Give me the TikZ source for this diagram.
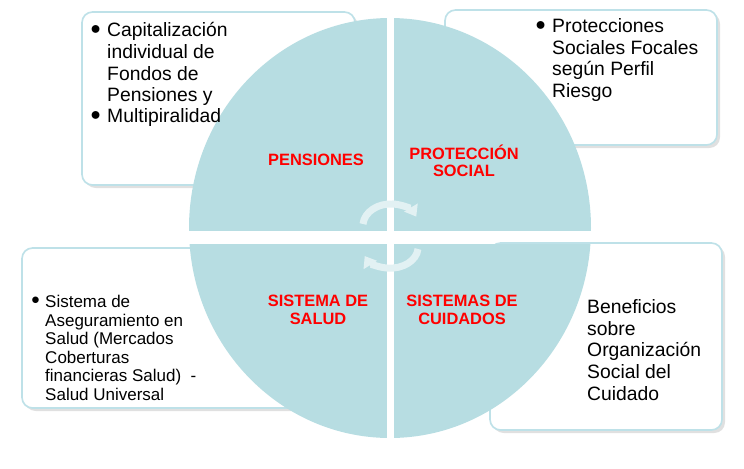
\documentclass[tikz,border=0pt]{standalone}
\usepackage{fontspec}
\setmainfont{Liberation Sans}
\usetikzlibrary{arrows.meta,positioning}
\definecolor{quad}{RGB}{183,221,226}
\definecolor{rim}{RGB}{190,225,232}
\definecolor{pale}{RGB}{226,241,243}
\tikzset{
  infobox/.style={draw=rim, line width=1.4pt, fill=white, rounded corners=9pt},
  shade/.style={fill=black!12, rounded corners=9pt},
  item/.style={anchor=north west, align=left, inner sep=0pt, font=\fontsize{16.5}{18.6}\selectfont},
  smallitem/.style={anchor=north west, align=left, inner sep=0pt, font=\fontsize{14.5}{15.8}\selectfont},
  bul/.style={anchor=north east, inner sep=0pt, font=\fontsize{16.5}{18.6}\selectfont},
  tag/.style={align=center, text=red, font=\fontsize{14}{15}\selectfont\bfseries},
  cycle/.style={-{Triangle[length=9pt,width=13pt]}, line width=6pt, draw=pale},
}
\begin{document}
\begin{tikzpicture}[x=0.03cm,y=-0.03cm]
\useasboundingbox (0,0) rectangle (744,469);

% --- info boxes behind the circle ---
\fill[shade] (85,15) rectangle (358,188);
\draw[infobox] (82,12) rectangle (355,185);
\fill[shade] (448,13) rectangle (720,148);
\draw[infobox] (445,10) rectangle (717,145);
\fill[shade] (25,251) rectangle (303,411);
\draw[infobox] (22,248) rectangle (300,408);
\fill[shade] (493,246) rectangle (725,433);
\draw[infobox] (490,243) rectangle (722,430);

% --- four quadrants ---
\begin{scope}
  \clip (390,228) ellipse (201 and 210);
  \fill[quad] (180,10) rectangle (386.5,230.5);
  \fill[quad] (393.5,10) rectangle (600,230.5);
  \fill[quad] (180,243.5) rectangle (386.5,450);
  \fill[quad] (393.5,243.5) rectangle (600,450);
\end{scope}

% --- cycle arrows ---
\draw[cycle] (363,224) arc[start angle=-175, end angle=-25, x radius=28, y radius=22];
\draw[cycle] (418,249) arc[start angle=5, end angle=155, x radius=28, y radius=21];

% --- quadrant labels ---
\node[tag] (pen) at (316,160) {PENSIONES};
\node[tag] (prot) at (464,161) {PROTECCIÓN\\SOCIAL};
\node[tag] (salud) at (318,310) {SISTEMA DE\\SALUD};
\node[tag] (cuid) at (462,310) {SISTEMAS DE\\CUIDADOS};

% --- box texts ---
\node[item] (capT) at (107,22) {Capitalización\\individual de\\Fondos de\\Pensiones y};
\node[bul] (capB) at (101,25) {$\bullet$};
\node[item] (mulT) at (107,108) {Multipiralidad};
\node[bul] (mulB) at (101,111) {$\bullet$};

\node[item] (proT) at (552,18) {Protecciones\\Sociales Focales\\según Perfil\\Riesgo};
\node[bul] (proB) at (546,21) {$\bullet$};

\node[smallitem] (salT) at (45,295) {Sistema de\\Aseguramiento en\\Salud (Mercados\\Coberturas\\financieras Salud)\ \ -\\Salud Universal};
\node[bul, font=\fontsize{14.5}{15.8}\selectfont] (salB) at (40,297) {$\bullet$};

\node[item] (benT) at (587,299) {Beneficios\\sobre\\Organización\\Social del\\Cuidado};
\end{tikzpicture}
\end{document}
